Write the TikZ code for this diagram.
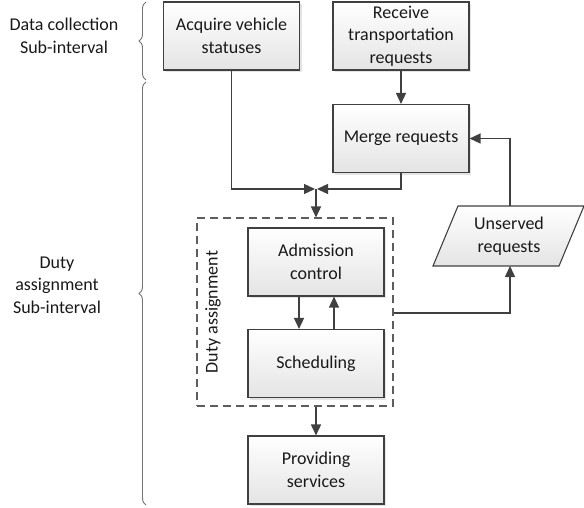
\documentclass[tikz,border=0pt]{standalone}
\usepackage{fontspec}
\setmainfont{Carlito}
\usetikzlibrary{arrows.meta,decorations.pathreplacing,shadows}
\definecolor{linegray}{HTML}{404040}
\definecolor{boxgray}{HTML}{E4E4E4}
\tikzset{
    stepbox/.style={draw=linegray,line width=1.1pt,top color=white,bottom color=boxgray,
        minimum width=136pt,minimum height=68pt,align=center,inner sep=2pt,
        drop shadow={shadow xshift=2pt,shadow yshift=-2pt,fill=gray!60,opacity=0.35}},
    arr/.style={draw=linegray,line width=1.4pt,-{Triangle[length=11pt,width=10pt]}},
    brc/.style={draw=gray!90!black,line width=0.9pt,decorate,decoration={brace,amplitude=7pt}}
}
\begin{document}
\begin{tikzpicture}[x=1pt,y=-1pt,font=\fontsize{18}{22.5}\selectfont,text=black!90]
    \useasboundingbox (0,0) rectangle (584,507);
    %% boxes
    \node[stepbox] (acquire) at (231.5,36) {Acquire vehicle\\statuses};
    \node[stepbox] (receive) at (401,36) {Receive\\transportation\\requests};
    \node[stepbox] (merge) at (401,138.5) {Merge requests};
    \node[draw=linegray!85,dash pattern=on 8pt off 5pt,line width=1.1pt,minimum width=196pt,minimum height=188pt] (dutybox) at (295,312) {};
    \node[rotate=90] (dutylabel) at (213,312) {Duty assignment};
    \node[stepbox] (admission) at (316,262) {Admission\\control};
    \node[stepbox] (sched) at (316,363.5) {Scheduling};
    \node[stepbox] (provide) at (316,470) {Providing\\services};
    %% unserved requests
    \shade[top color=white,bottom color=boxgray,draw=linegray,line width=1.1pt]
        (433,266) -- (458,206) -- (584,206) -- (559,266) -- cycle;
    \node[align=center] (unserved) at (509,236) {Unserved\\requests};
    \coordinate (unsvtop) at (510,206);
    \coordinate (unsvbot) at (510,266);
    \coordinate (junction) at (316,189);
    %% connectors
    \draw[arr] (receive) -- (merge);
    \draw[arr] (acquire.south) |- ([xshift=-1pt]junction);
    \draw[arr] (merge.south) |- ([xshift=1pt]junction);
    \draw[arr] (junction) -- (dutybox.north -| junction);
    \draw[arr] ([xshift=-17pt]admission.south) -- ([xshift=-17pt]sched.north);
    \draw[arr] ([xshift=18pt]sched.north) -- ([xshift=18pt]admission.south);
    \draw[arr] (dutybox.south -| provide) -- (provide.north);
    \draw[arr] (dutybox.east |- 0,313) -| (unsvbot);
    \draw[arr] (unsvtop) |- (merge.east);
    %% sub-intervals
    \draw[brc] (146,80) -- (146,2);
    \draw[brc] (146,505) -- (146,82);
    \node[align=center] (collect) at (64,36) {Data collection\\Sub-interval};
    \node[align=center] (assign) at (57,285) {Duty\\assignment\\Sub-interval};
\end{tikzpicture}
\end{document}
